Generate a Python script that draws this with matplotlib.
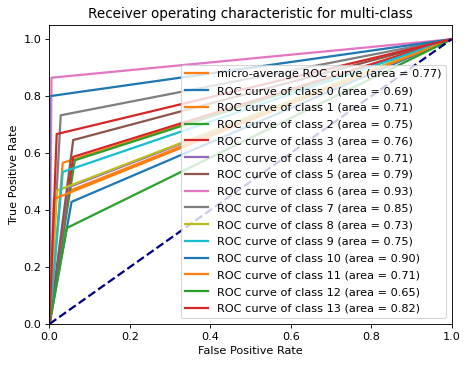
import matplotlib
matplotlib.use('Agg')
import matplotlib.pyplot as plt

# one operating point per curve: (fpr, tpr), plus the reported area
micro_fpr = 0.033
micro_tpr = 0.566
micro_auc = 0.77

class_fpr = [0.055, 0.045, 0.063, 0.059, 0.047, 0.059, 0.005, 0.028, 0.018, 0.033, 0.0, 0.011, 0.043, 0.018]
class_tpr = [0.429, 0.465, 0.575, 0.587, 0.480, 0.646, 0.865, 0.733, 0.468, 0.534, 0.80, 0.439, 0.337, 0.667]
class_auc = [0.69, 0.71, 0.75, 0.76, 0.71, 0.79, 0.93, 0.85, 0.73, 0.75, 0.90, 0.71, 0.65, 0.82]

dpi = 81
fig = plt.figure(figsize=(469 / dpi, 368 / dpi), dpi=dpi)
fig.subplots_adjust(left=0.1055, right=0.9627, bottom=0.1196, top=0.932)
ax = fig.add_subplot(111)

lw = 2
ax.plot([0, micro_fpr, 1], [0, micro_tpr, 1], color='tab:orange', lw=lw,
        label='micro-average ROC curve (area = %0.2f)' % micro_auc)

for i in range(len(class_fpr)):
    ax.plot([0, class_fpr[i], 1], [0, class_tpr[i], 1], color='C%d' % (i % 10), lw=lw,
            label='ROC curve of class %d (area = %0.2f)' % (i, class_auc[i]))

ax.plot([0, 1], [0, 1], color='navy', lw=lw, linestyle='--')
ax.set_xlim([0.0, 1.0])
ax.set_ylim([0.0, 1.05])
ax.set_xlabel('False Positive Rate')
ax.set_ylabel('True Positive Rate')
ax.set_title('Receiver operating characteristic for multi-class')
ax.legend(loc='lower right', labelspacing=0.6)

fig.savefig('out.png', dpi=dpi)
